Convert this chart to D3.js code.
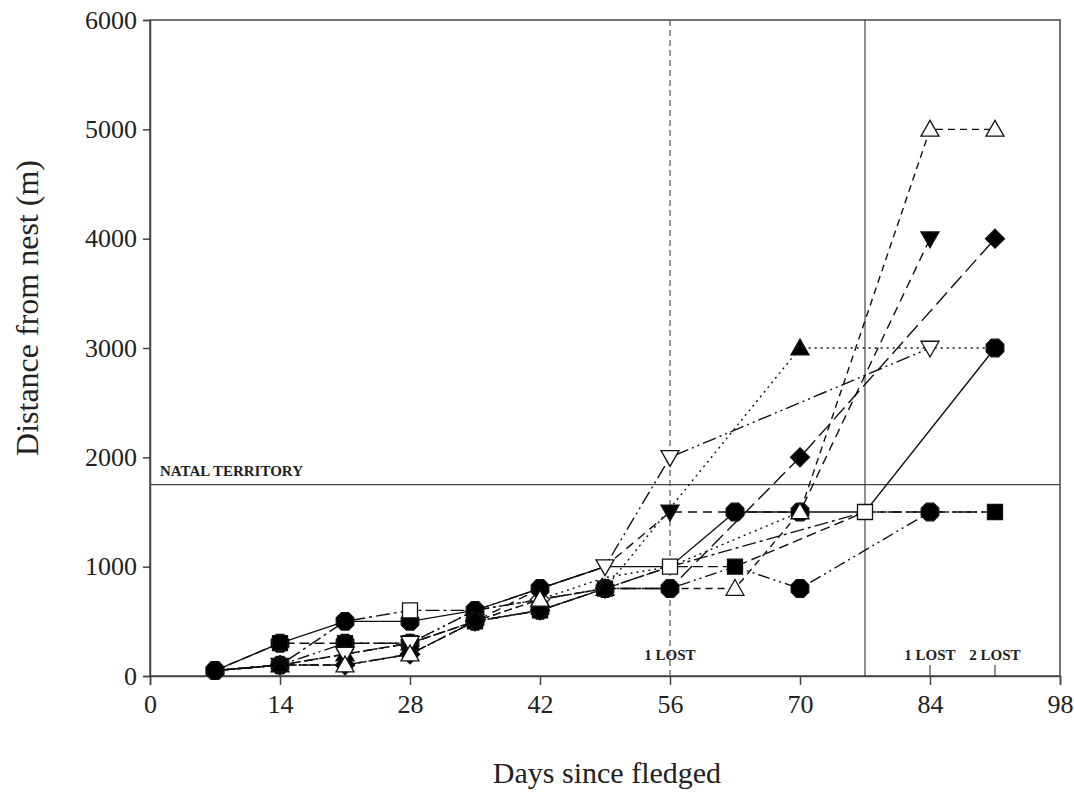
<!DOCTYPE html>
<html>
<head>
<meta charset="utf-8">
<script src="https://cdn.jsdelivr.net/npm/d3@7"></script>
<style>
  body { margin: 0; background: #fff; }
  svg text { font-family: "Liberation Serif", "Times New Roman", serif; fill: #222; }
</style>
</head>
<body>
<script>
// days on the x axis where fixes were taken
var days = [7, 14, 21, 28, 35, 42, 49, 56, 63, 70, 77, 84, 91];

// one array per bird, aligned to days (null = no fix)
var hexSolid      = [50, 300, 500, 500, 600, 800, 1000, 1000, 1500, 1500, 1500, null, 3000];
var hexDashDot    = [50, 100, 300, 300, 500, 600, 800, 800, 1000, 800, null, 1500, 1500];
var squareFilled  = [50, 300, 300, 300, 500, 600, 800, 1000, 1000, null, 1500, null, 1500];
var squareOpen    = [50, 100, 500, 600, 600, 700, 800, 1000, null, null, 1500, 1500, null];
var diamondFilled = [50, 100, 100, 200, 500, 600, 800, 800, null, 2000, null, null, 4000];
var diamondOpen   = [50, 100, 100, 200, 500, 700, 900, 1000, null, 1500, null, null, null];
var triDownFilled = [50, 100, 200, 300, 500, 800, 1000, 1500, 1500, 1500, null, 4000, null];
var triUpFilled   = [50, 100, 200, 300, 600, 700, 800, null, null, 3000, null, null, 3000];
var triDownOpen   = [50, 100, 200, 300, 600, 800, 1000, 2000, null, null, null, 3000, null];
var triUpOpen     = [50, 100, 100, 200, 500, 700, 800, null, 800, 1500, null, 5000, 5000];

var xTicks = [0, 14, 28, 42, 56, 70, 84, 98];
var yTicks = [0, 1000, 2000, 3000, 4000, 5000, 6000];
var natalTerritory = 1750;
var lostDays = [56, 84, 91];
var lostLabels = ["1 LOST", "1 LOST", "2 LOST"];

// hide: days where the symbol sits under another bird's symbol
var series = [
  { values: diamondOpen,   shape: "diamond", fill: "#fff", dash: "2,4",          hide: [7, 14, 35, 49, 56, 70] },
  { values: hexSolid,      shape: "hex",     fill: "#000", dash: null,           hide: [49, 56, 77] },
  { values: hexDashDot,    shape: "hex",     fill: "#000", dash: "12,4,2,4,2,4", hide: [63, 91] },
  { values: squareFilled,  shape: "square",  fill: "#000", dash: "10,5",         hide: [7, 56, 77] },
  { values: squareOpen,    shape: "square",  fill: "#fff", dash: "14,4,3,4",     hide: [7, 14, 21, 35, 42, 49, 84] },
  { values: triDownFilled, shape: "triDown", fill: "#000", dash: "9,6",          hide: [7, 42, 49, 63, 70] },
  { values: diamondFilled, shape: "diamond", fill: "#000", dash: "16,6",         hide: [7, 56] },
  { values: triUpFilled,   shape: "triUp",   fill: "#000", dash: "2,4",          hide: [7, 35, 91] },
  { values: triDownOpen,   shape: "triDown", fill: "#fff", dash: "14,4,2,4,2,4", hide: [7, 14, 35, 42] },
  { values: triUpOpen,     shape: "triUp",   fill: "#fff", dash: "7,5",          hide: [7, 14, 35, 49] }
];

var W = 1074, H = 792;
var margin = { left: 150, right: 14, top: 20, bottom: 116 };
var w = W - margin.left - margin.right,
    h = H - margin.top - margin.bottom;

var svg = d3.select("body").append("svg").attr("width", W).attr("height", H);
var g = svg.append("g").attr("transform", "translate(" + margin.left + "," + margin.top + ")");

var x = d3.scaleLinear().domain([0, 98]).range([0, w]);
var y = d3.scaleLinear().domain([0, 6000]).range([h, 0]);

function shapePath(shape) {
  var r;
  if (shape === "hex") {
    r = 9.5;
    var pts = d3.range(8).map(function(i) {
      var a = Math.PI / 8 + i * Math.PI / 4;
      return [r * Math.cos(a), r * Math.sin(a)];
    });
    return "M" + pts.join("L") + "Z";
  }
  if (shape === "square") { r = 7.5; return "M" + [[-r, -r], [r, -r], [r, r], [-r, r]].join("L") + "Z"; }
  if (shape === "diamond") { r = 9.5; return "M" + [[0, -r], [r, 0], [0, r], [-r, 0]].join("L") + "Z"; }
  if (shape === "triUp") { r = 9; return "M" + [[0, -r], [r, r * 0.75], [-r, r * 0.75]].join("L") + "Z"; }
  if (shape === "triDown") { r = 9; return "M" + [[0, r], [r, -r * 0.75], [-r, -r * 0.75]].join("L") + "Z"; }
}

// frame
g.append("rect").attr("width", w).attr("height", h)
  .attr("fill", "none").attr("stroke", "#444").attr("stroke-width", 1.5);

// axes
var xAxis = d3.axisBottom(x).tickValues(xTicks).tickFormat(d3.format("d")).tickSize(9).tickPadding(10);
var yAxis = d3.axisLeft(y).tickValues(yTicks).tickFormat(d3.format("d")).tickSize(7).tickPadding(6);

var gx = g.append("g").attr("transform", "translate(0," + h + ")").call(xAxis);
var gy = g.append("g").call(yAxis);
[gx, gy].forEach(function(a) {
  a.select(".domain").attr("stroke", "#444").attr("stroke-width", 1.5);
  a.selectAll(".tick line").attr("stroke", "#444").attr("stroke-width", 1.5);
  a.selectAll(".tick text").attr("font-size", 26).attr("font-family", "Liberation Serif").attr("fill", "#222");
});

// reference lines
g.append("line")
  .attr("x1", 0).attr("x2", w).attr("y1", y(natalTerritory)).attr("y2", y(natalTerritory))
  .attr("stroke", "#444").attr("stroke-width", 1.3);
g.append("text").attr("x", 10).attr("y", y(natalTerritory) - 9)
  .attr("font-size", 15).attr("font-weight", "bold").text("NATAL TERRITORY");

g.append("line")
  .attr("x1", x(56)).attr("x2", x(56)).attr("y1", 0).attr("y2", h)
  .attr("stroke", "#555").attr("stroke-width", 1.2).attr("stroke-dasharray", "6,4");
g.append("line")
  .attr("x1", x(77)).attr("x2", x(77)).attr("y1", 0).attr("y2", h)
  .attr("stroke", "#444").attr("stroke-width", 1.2);

// lost markers
lostDays.forEach(function(d, i) {
  if (d !== 56) {
    g.append("line").attr("x1", x(d)).attr("x2", x(d)).attr("y1", h).attr("y2", h - 11)
      .attr("stroke", "#444").attr("stroke-width", 1.2);
  }
  g.append("text").attr("x", x(d)).attr("y", h - 16).attr("text-anchor", "middle")
    .attr("font-size", 15).attr("font-weight", "bold").text(lostLabels[i]);
});

// axis titles
svg.append("text").attr("x", margin.left + w / 2 + 2).attr("y", 783).attr("text-anchor", "middle")
  .attr("font-size", 30).text("Days since fledged");
svg.append("text").attr("transform", "translate(38,308) rotate(-90)")
  .attr("text-anchor", "middle").attr("font-size", 32).text("Distance from nest (m)");

// data
function pointsOf(s) {
  return days.map(function(d, i) { return { day: d, v: s.values[i] }; })
    .filter(function(p) { return p.v !== null; });
}

var line = d3.line().x(function(p) { return x(p.day); }).y(function(p) { return y(p.v); });

g.selectAll("path.series")
  .data(series)
  .enter()
  .append("path")
  .attr("class", "series")
  .attr("d", function(s) { return line(pointsOf(s)); })
  .attr("fill", "none")
  .attr("stroke", "#111")
  .attr("stroke-width", 1.4)
  .attr("stroke-dasharray", function(s) { return s.dash; });

series.forEach(function(s) {
  g.selectAll(null)
    .data(pointsOf(s).filter(function(p) { return s.hide.indexOf(p.day) < 0; }))
    .enter()
    .append("path")
    .attr("d", shapePath(s.shape))
    .attr("transform", function(p) { return "translate(" + x(p.day) + "," + y(p.v) + ")"; })
    .attr("fill", s.fill)
    .attr("stroke", "#111")
    .attr("stroke-width", 1.3);
});
</script>
</body>
</html>
